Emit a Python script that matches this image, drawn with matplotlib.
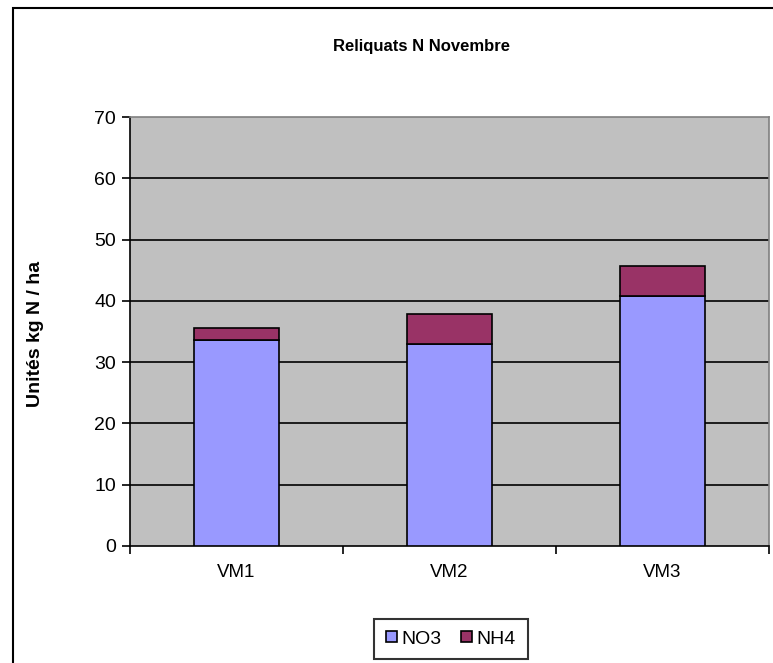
import matplotlib.pyplot as plt
import numpy as np
from matplotlib.patches import Rectangle

plt.rcParams['font.family'] = ['Liberation Sans', 'DejaVu Sans']

categories = ['VM1', 'VM2', 'VM3']
no3 = [33.6, 33.0, 40.8]
nh4 = [2.0, 4.8, 4.9]
yticks = [0, 10, 20, 30, 40, 50, 60, 70]

fig = plt.figure(figsize=(7.73, 6.63), dpi=100)
ax = fig.add_axes([130/773, 1 - 546/663, 639/773, 429/663])

# outer chart frame (cut off at right and bottom like the reference)
fig.patches.append(Rectangle((13/773, -0.1), 1.2, 1 - 8/663 + 0.1, transform=fig.transFigure,
                             fill=False, edgecolor='black', linewidth=1.5, zorder=0))

x = np.arange(len(categories))
ax.set_facecolor('#C0C0C0')
for y in yticks[1:-1]:
    ax.axhline(y, color='black', linewidth=1.2, zorder=1)

ax.bar(x, no3, width=0.4, color='#9999FF', edgecolor='black', linewidth=1.2, label='NO3', zorder=3)
ax.bar(x, nh4, width=0.4, bottom=no3, color='#993366', edgecolor='black', linewidth=1.2, label='NH4', zorder=3)

ax.set_xlim(-0.5, 2.5)
ax.set_ylim(0, 70)
ax.set_yticks(yticks)
ax.set_yticklabels([str(v) for v in yticks], fontsize=14)
ax.set_xticks(x)
ax.set_xticklabels(categories, fontsize=13.5)
ax.tick_params(axis='x', length=0, pad=13)
ax.set_xticks([-0.5, 0.5, 1.5, 2.5], minor=True)
ax.tick_params(axis='x', which='minor', length=6, width=1.2, direction='out')
ax.tick_params(axis='y', length=6, width=1.2, direction='out', pad=4)

for side in ['top', 'right']:
    ax.spines[side].set_color('#808080')
    ax.spines[side].set_linewidth(1.2)
for side in ['left', 'bottom']:
    ax.spines[side].set_color('black')
    ax.spines[side].set_linewidth(1.2)

fig.text(422/773, 1 - 47/663, 'Reliquats N Novembre', fontsize=12, fontweight='bold',
         ha='center', va='center')
fig.text(36/773, 1 - 334/663, 'Unités kg N / ha', fontsize=14, fontweight='bold',
         rotation=90, ha='center', va='center')

leg = ax.legend(loc='center', bbox_to_anchor=(451/773, 1 - 639/663), bbox_transform=fig.transFigure,
                ncol=2, fontsize=14, frameon=True, fancybox=False, handlelength=0.55, handleheight=0.55,
                handletextpad=0.25, columnspacing=1.0, borderpad=0.6)
leg.get_frame().set_edgecolor('black')
leg.get_frame().set_linewidth(1.5)

plt.savefig('out.png', dpi=100)
